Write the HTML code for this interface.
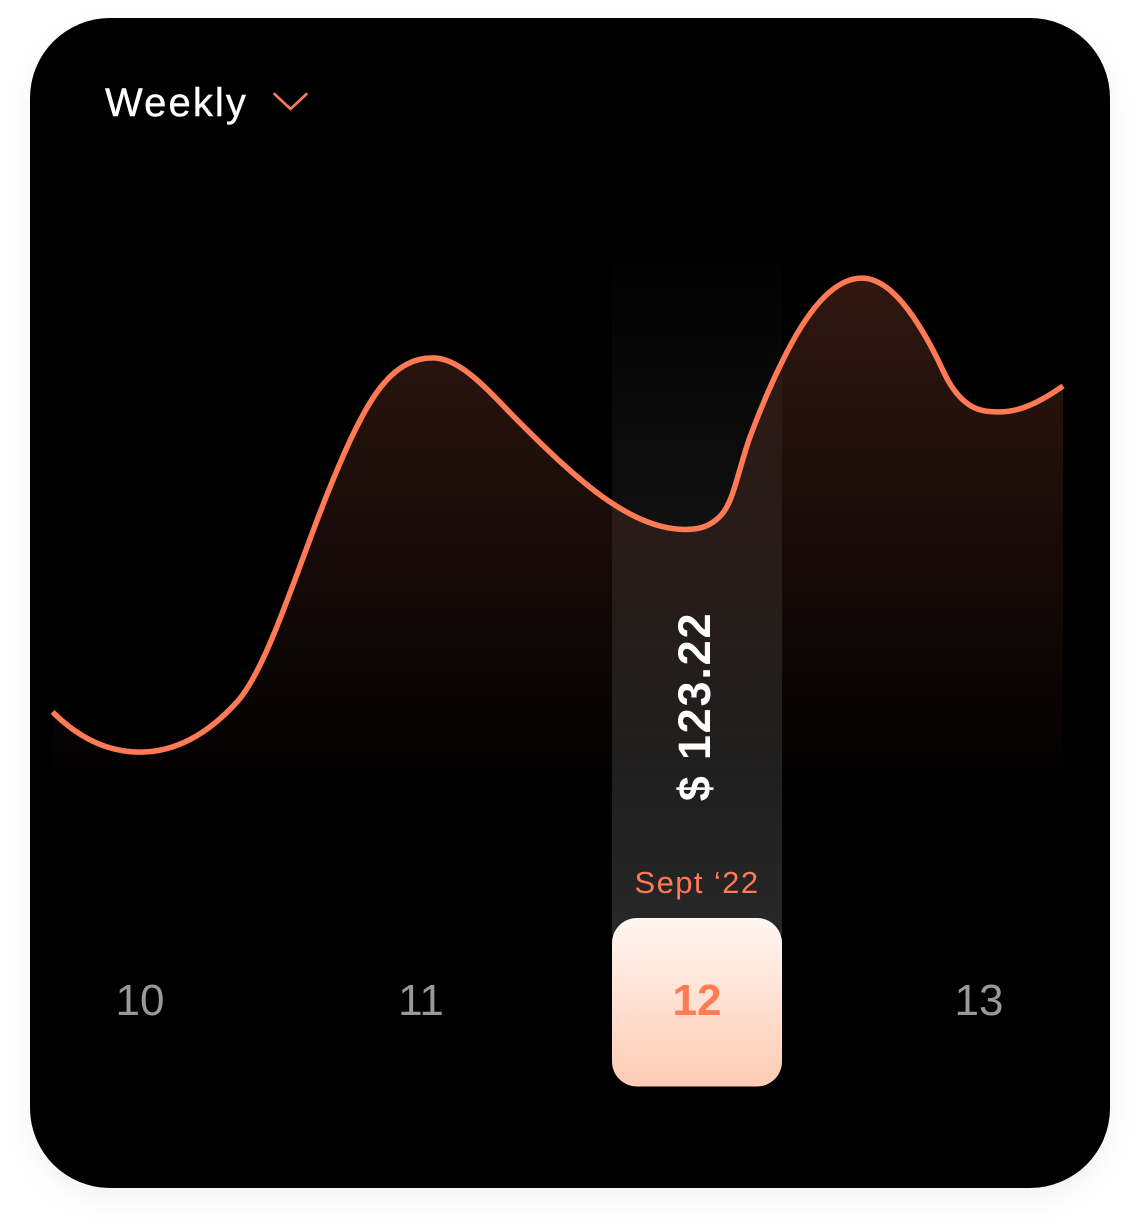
<!DOCTYPE html>
<html lang="en">
<head>
<meta charset="utf-8">
<title>Weekly chart</title>
<style>
html,body{margin:0;padding:0;background:#fff;width:1140px;height:1231px;overflow:hidden}
#chart-svg{display:block;position:absolute;left:0;top:0}
#card{position:absolute;left:30px;top:18px;width:1080px;height:1170px;border-radius:80px;background:#000;box-shadow:0 12px 30px rgba(0,0,0,.05)}
text{font-family:"Liberation Sans",sans-serif}
</style>
</head>
<body>
<div id="card"></div>
<svg id="chart-svg" width="1140" height="1231" viewBox="0 0 1140 1231" xmlns="http://www.w3.org/2000/svg">
  <defs>
    <linearGradient id="areaGrad" gradientUnits="userSpaceOnUse" x1="0" y1="277" x2="0" y2="795">
      <stop offset="0" stop-color="#ff7a55" stop-opacity=".19"/>
      <stop offset="1" stop-color="#ff7a55" stop-opacity="0"/>
    </linearGradient>
    <linearGradient id="bandGrad" gradientUnits="userSpaceOnUse" x1="0" y1="240" x2="0" y2="930">
      <stop offset="0" stop-color="#fff" stop-opacity="0"/>
      <stop offset="1" stop-color="#fff" stop-opacity=".155"/>
    </linearGradient>
    <linearGradient id="tileGrad" x1="0" y1="0" x2="0" y2="1">
      <stop offset="0" stop-color="#fff6f2"/>
      <stop offset="1" stop-color="#ffcbb3"/>
    </linearGradient>
  </defs>
  <g>
    <text x="105" y="116" font-size="40" letter-spacing="2.100" fill="#fff" stroke="#fff" stroke-width=".4">Weekly</text>
    <polyline points="274.500,94 290.500,109 306.500,94" fill="none" stroke="#ff7a55" stroke-width="2.600" stroke-linecap="round" stroke-linejoin="round"/>
  </g>
  <path id="area" fill="url(#areaGrad)"></path>
  <rect id="band" fill="url(#bandGrad)"></rect>
  <path id="line" fill="none" stroke="#ff7a55" stroke-width="5.500"></path>
  <text id="valueLabel" font-size="45" font-weight="700" letter-spacing="1.800" fill="#fff" text-anchor="middle"></text>
  <text id="monthLabel" y="893" font-size="31" letter-spacing="1.400" fill="#ff7a55" text-anchor="middle"></text>
  <rect id="tile" y="918" width="170" height="168.500" rx="25" fill="url(#tileGrad)"></rect>
  <g id="ticks"></g>
</svg>
<script>
const weekTicks = [10, 11, 12, 13];
const weekTickLabels = ["10", "11", "12", "13"];
const selectedWeek = 12;
const selectedValue = "$ 123.22";
const selectedMonth = "Sept \u201822";
const curveWeeks = [9.689, 10, 10.345, 10.665, 10.854, 11.043, 11.359, 11.957, 12.067, 12.128, 12.188, 12.319, 12.585, 12.851, 12.89, 13.074, 13.298];
const curveValues = [33.4, 13.7, 38.3, 139.9, 192.4, 207.2, 175.3, 123.0, 127.6, 141.4, 168.4, 210.1, 246.4, 207.2, 196.2, 180.7, 193.4];
/* rate of change at each curve point, dollars per week */
const curveRates = [-137, 0, 151, 343, 178, 0, -137, 0, 110, 412, 371, 268, 0, -275, -240, 0, 96];

const xDomain = [10, 11, 12, 13];
const xRange = [140, 421, 697, 979];
function xScale(w) {
  let i = 0;
  while (i < xDomain.length - 2 && w > xDomain[i + 1]) i++;
  const t = (w - xDomain[i]) / (xDomain[i + 1] - xDomain[i]);
  return xRange[i] + t * (xRange[i + 1] - xRange[i]);
}
const baseY = 780;
const areaBottomY = 795;
const pxPerDollar = 2.037;
const pxPerWeek = (xRange[3] - xRange[0]) / (xDomain[3] - xDomain[0]);
function yScale(v) {
  return baseY - v * pxPerDollar;
}
function slopeScale(r) {
  return -r * pxPerDollar / pxPerWeek;
}

const pts = curveWeeks.map((w, i) => [xScale(w), yScale(curveValues[i]), slopeScale(curveRates[i])]);

/* Cubic Hermite segments through the points, emitted as Bezier curves */
function curvePath(p) {
  let d = "M" + p[0][0].toFixed(2) + " " + p[0][1].toFixed(2);
  for (let i = 0; i < p.length - 1; i++) {
    const a = p[i], b = p[i + 1], h = (b[0] - a[0]) / 3;
    d += "C" + (a[0] + h).toFixed(2) + " " + (a[1] + a[2] * h).toFixed(2) + " " +
      (b[0] - h).toFixed(2) + " " + (b[1] - b[2] * h).toFixed(2) + " " +
      b[0].toFixed(2) + " " + b[1].toFixed(2);
  }
  return d;
}
const linePath = curvePath(pts);
document.getElementById("line").setAttribute("d", linePath);
document.getElementById("area").setAttribute("d", linePath + "L" + pts[pts.length - 1][0].toFixed(2) + " " + areaBottomY + "L" + pts[0][0].toFixed(2) + " " + areaBottomY + "Z");

const selX = xScale(selectedWeek);
const band = document.getElementById("band");
band.setAttribute("x", selX - 85);
band.setAttribute("y", 240);
band.setAttribute("width", 170);
band.setAttribute("height", 695);
const tile = document.getElementById("tile");
tile.setAttribute("x", selX - 85);

const valueLabel = document.getElementById("valueLabel");
valueLabel.textContent = selectedValue;
valueLabel.setAttribute("transform", "translate(" + (selX + 13) + " 706.500) rotate(-90)");
const monthLabel = document.getElementById("monthLabel");
monthLabel.setAttribute("x", selX);
monthLabel.textContent = selectedMonth;

const ticksGroup = document.getElementById("ticks");
weekTicks.forEach((w, i) => {
  const t = document.createElementNS("http://www.w3.org/2000/svg", "text");
  const isSel = w === selectedWeek;
  t.setAttribute("x", xScale(w));
  t.setAttribute("y", 1015);
  t.setAttribute("font-size", 44);
  t.setAttribute("text-anchor", "middle");
  t.setAttribute("fill", isSel ? "#ff7a55" : "#999999");
  t.setAttribute("font-weight", isSel ? "700" : "400");
  
  
  t.textContent = weekTickLabels[i];
  ticksGroup.appendChild(t);
});
</script>
</body>
</html>
